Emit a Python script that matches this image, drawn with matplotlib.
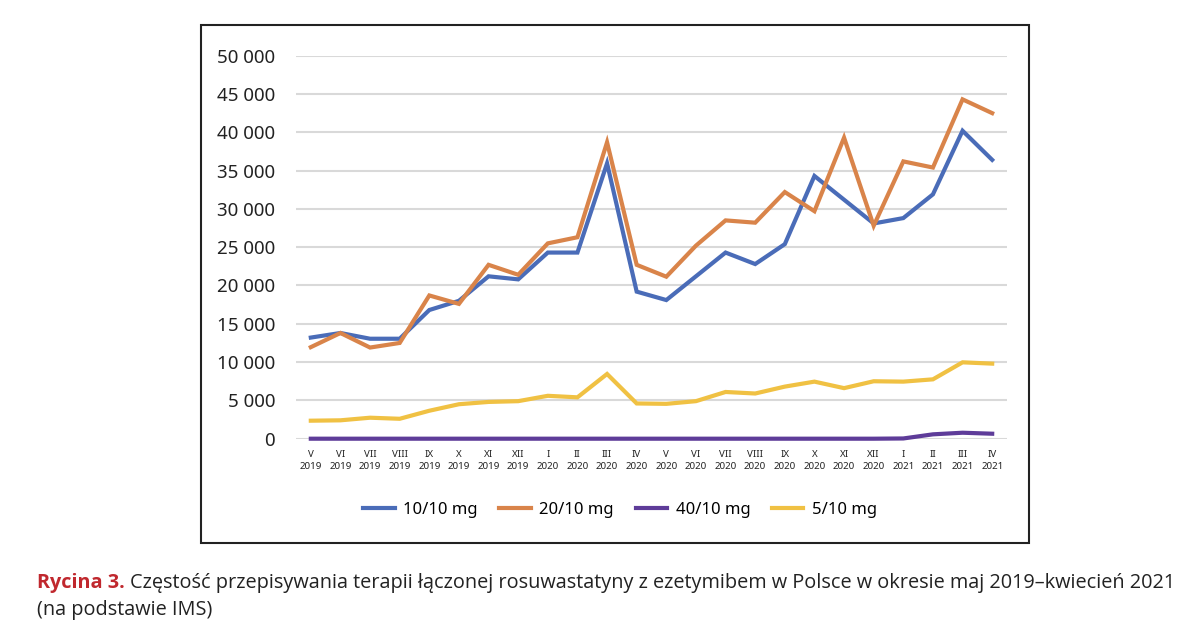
import matplotlib
matplotlib.use('Agg')
import matplotlib.pyplot as plt
from matplotlib.patches import Rectangle
from matplotlib.ticker import FuncFormatter

plt.rcParams['font.family'] = ['Noto Sans', 'DejaVu Sans']

months = ['V', 'VI', 'VII', 'VIII', 'IX', 'X', 'XI', 'XII',
          'I', 'II', 'III', 'IV', 'V', 'VI', 'VII', 'VIII', 'IX', 'X', 'XI', 'XII',
          'I', 'II', 'III', 'IV']
years = ['2019'] * 8 + ['2020'] * 12 + ['2021'] * 4

s_10_10 = [13200, 13800, 13050, 13050, 16800, 18000, 21200, 20800,
           24300, 24300, 35950, 19200, 18100, 21200, 24300, 22800,
           25400, 34300, 31200, 28100, 28800, 31900, 40200, 36400]
s_20_10 = [11950, 13800, 11900, 12500, 18700, 17600, 22700, 21400,
           25500, 26300, 38700, 22700, 21150, 25200, 28500, 28200,
           32200, 29700, 39300, 27800, 36200, 35400, 44300, 42500]
s_40_10 = [0, 0, 0, 0, 0, 0, 0, 0, 0, 0, 0, 0,
           0, 0, 0, 0, 0, 0, 0, 0, 30, 570, 780, 650]
s_5_10 = [2350, 2400, 2740, 2600, 3650, 4500, 4800, 4900,
          5600, 5400, 8450, 4600, 4550, 4900, 6100, 5900,
          6800, 7450, 6600, 7500, 7450, 7750, 9970, 9800]

series = [('10/10 mg', s_10_10, '#4a6cb8'),
          ('20/10 mg', s_20_10, '#d9844a'),
          ('40/10 mg', s_40_10, '#5e3c99'),
          ('5/10 mg', s_5_10, '#f0c143')]

fig = plt.figure(figsize=(12, 6.44), dpi=100)
ax = fig.add_axes([296 / 1200, 1 - 438.7 / 644, 711 / 1200, 383 / 644])

x = list(range(len(months)))
for name, vals, col in series:
    ax.plot(x, vals, color=col, lw=3, label=name, clip_on=False,
            solid_joinstyle='miter', zorder=3)

ax.set_xlim(-0.5, len(months) - 0.5)
ax.set_ylim(0, 50000)
ax.set_yticks(range(0, 50001, 5000))
ax.yaxis.set_major_formatter(FuncFormatter(lambda v, p: f'{int(v):,}'.replace(',', ' ')))
ax.set_xticks(x)
ax.set_xticklabels([f'{m}\n{y}' for m, y in zip(months, years)], fontsize=7,
                   linespacing=1.4)
ax.grid(axis='y', color='#d9d9d9', lw=1.5)
ax.set_axisbelow(True)
for sp in ax.spines.values():
    sp.set_visible(False)
ax.tick_params(axis='both', length=0)
ax.tick_params(axis='y', labelsize=13.5, pad=15, labelcolor='#222222')
ax.tick_params(axis='x', pad=8, labelcolor='#222222')

fig.legend(loc='center', bbox_to_anchor=(620 / 1200, 1 - 510 / 644), ncol=4,
           frameon=False, fontsize=12, handlelength=1.9, columnspacing=1.3,
           handletextpad=0.5)

# ramka wokol wykresu
fig.patches.append(Rectangle((201 / 1200, 1 - 543 / 644), 828 / 1200, 518 / 644,
                             transform=fig.transFigure, fill=False,
                             edgecolor='#222222', lw=1.5))

# podpis - dopasowanie rozmiaru do szerokosci wiersza
cap_font = ['Open Sans', 'DejaVu Sans']
rest = ('Częstość przepisywania terapii łączonej rosuwastatyny z ezetymibem '
        'w Polsce w okresie maj 2019–kwiecień 2021')
y1 = 1 - 583 / 644
y2 = 1 - 610 / 644
cap_size = 13.0
t1 = fig.text(37 / 1200, y1, 'Rycina 3.', color='#c0282e', family=cap_font,
              fontweight='bold', fontsize=cap_size, va='center')
t2 = fig.text(0, y1, rest, color='#222222', family=cap_font,
              fontsize=cap_size, va='center')
r = fig.canvas.get_renderer()
w = t1.get_window_extent(r).width + 5 + t2.get_window_extent(r).width
cap_size = cap_size * 1136 / w
t1.set_fontsize(cap_size)
t2.set_fontsize(cap_size)
bb = t1.get_window_extent(r)
t2.set_x((bb.x1 + 5) / 1200)
fig.text(37 / 1200, y2, '(na podstawie IMS)', color='#222222', family=cap_font,
         fontsize=cap_size, va='center')

fig.savefig('out.png', dpi=100)
